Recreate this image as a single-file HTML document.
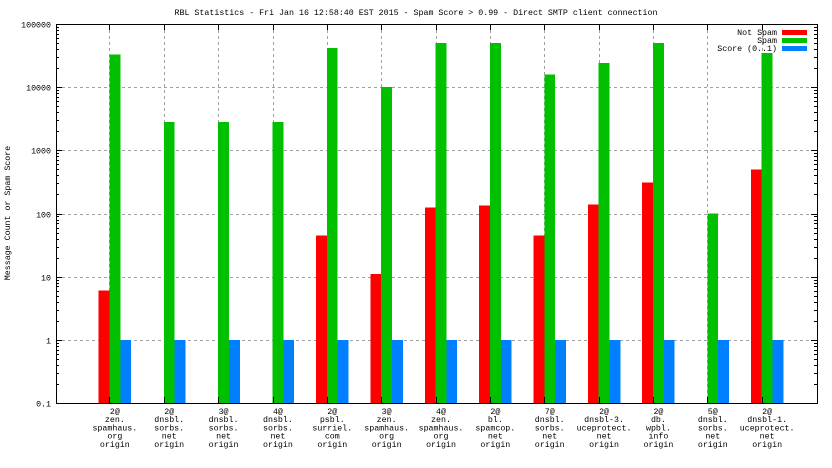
<!DOCTYPE html>
<html><head><meta charset="utf-8"><style>
html,body{margin:0;padding:0;background:#fff;}
svg{display:block;font-family:"Liberation Mono",monospace;font-size:8.3px;}
</style></head><body>
<svg id="chart" width="832" height="468" viewBox="0 0 832 468" shape-rendering="crispEdges">
<text x="416" y="15" text-anchor="middle">RBL Statistics - Fri Jan 16 12:58:40 EST 2015 - Spam Score &gt; 0.99 - Direct SMTP client connection</text>
<text transform="translate(10,213) rotate(-90)" text-anchor="middle">Message Count or Spam Score</text>
<g id="grid"></g>
<g id="bars"></g>
<g id="axes"></g>
<g id="legend"></g>
</svg>
<script>
const categories=[["2@","zen.","spamhaus.","org","origin"],["2@","dnsbl.","sorbs.","net","origin"],["3@","dnsbl.","sorbs.","net","origin"],["4@","dnsbl.","sorbs.","net","origin"],["2@","psbl.","surriel.","com","origin"],["3@","zen.","spamhaus.","org","origin"],["4@","zen.","spamhaus.","org","origin"],["2@","bl.","spamcop.","net","origin"],["7@","dnsbl.","sorbs.","net","origin"],["2@","dnsbl-3.","uceprotect.","net","origin"],["2@","db.","wpbl.","info","origin"],["5@","dnsbl.","sorbs.","net","origin"],["2@","dnsbl-1.","uceprotect.","net","origin"]];
const notSpam=[6,null,null,null,45,11,125,135,45,140,310,null,500];
const spam=[33000,2800,2800,2800,42000,10000,50000,50000,16000,24000,50000,100,35000];
const score=[1,1,1,1,1,1,1,1,1,1,1,1,1];
const yTicks=[0.1,1,10,100,1000,10000,100000];
const yTickLabels=["0.1","1","10","100","1000","10000","100000"];
const seriesNames=["Not Spam","Spam","Score (0..1)"];
const colors=["#ff0000","#00c000","#0080ff"];

const NS="http://www.w3.org/2000/svg";
const L=56,R=817,T=24,B=403;
const yMin=-1,yMax=5;
function y(v){return B-(Math.log10(v)-yMin)/(yMax-yMin)*(B-T);}
const step=(R-L)/14;
function xc(i){return L+step*(i+1)+4.5;}
const bw=10.8;
function mk(tag,attrs,parent){const e=document.createElementNS(NS,tag);for(const k in attrs)e.setAttribute(k,attrs[k]);parent.appendChild(e);return e;}
const grid=document.getElementById('grid'),bars=document.getElementById('bars'),axes=document.getElementById('axes'),legend=document.getElementById('legend');

yTicks.forEach((v,k)=>{
  const yy=Math.round(y(v))+0.5;
  if(k>0&&k<yTicks.length-1){const g=mk('line',{x1:L,x2:R,y1:yy,y2:yy,stroke:'#a0a0a0','stroke-dasharray':'3,3'},grid);
  }
  const t=mk('text',{x:L-5,y:yy+3,'text-anchor':'end'},axes);t.textContent=yTickLabels[k];
  
  mk('line',{x1:L,x2:L+6,y1:yy,y2:yy,stroke:'#000'},axes);
  mk('line',{x1:R-6,x2:R,y1:yy,y2:yy,stroke:'#000'},axes);
  if(k<yTicks.length-1){for(let m=2;m<=9;m++){const my=Math.round(y(v*m))+0.5;
    mk('line',{x1:L,x2:L+3,y1:my,y2:my,stroke:'#000'},axes);
    mk('line',{x1:R-3,x2:R,y1:my,y2:my,stroke:'#000'},axes);}}
});
categories.forEach((c,i)=>{
  const gx=Math.round(xc(i)-bw/2)+0.5;
  const g=mk('line',{x1:gx,x2:gx,y1:T,y2:B,stroke:'#a0a0a0','stroke-dasharray':'3,3'},grid);
  
  mk('line',{x1:gx,x2:gx,y1:T,y2:T+6,stroke:'#000'},axes);
  mk('line',{x1:gx,x2:gx,y1:B-6,y2:B,stroke:'#000'},axes);
  const t=mk('text',{x:xc(i),y:414,'text-anchor':'middle'},axes);
  
  c.forEach((ln,j)=>{const s=mk('tspan',{x:xc(i),dy:j?8.2:0},t);s.textContent=ln;});
});
[notSpam,spam,score].forEach((arr,s)=>{
  arr.forEach((v,i)=>{
    if(v==null)return;
    const x0=xc(i)+(s-1)*bw-bw/2;const yt=y(v);
    const r=mk('rect',{x:x0,y:yt,width:bw,height:B-yt,fill:colors[s]},bars);
    
    
  });
});
const f=mk('rect',{x:L+0.5,y:T+0.5,width:R-L,height:B-T,fill:'none',stroke:'#000'},axes);

seriesNames.forEach((n,s)=>{
  const yy=32+s*8;
  const t=mk('text',{x:777,y:yy+3,'text-anchor':'end'},legend);t.textContent=n;
  
  const r=mk('rect',{x:782,y:yy-2,width:25,height:5,fill:colors[s]},legend);
  
});
</script>
</body></html>
